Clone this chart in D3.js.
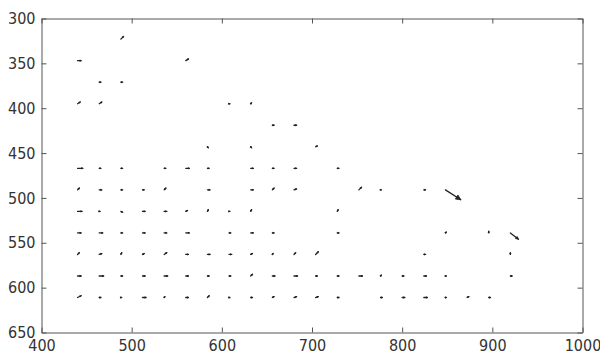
<!DOCTYPE html>
<html><head><meta charset="utf-8">
<script src="https://cdn.jsdelivr.net/npm/d3@7"></script>
<style>
html,body{margin:0;padding:0;background:#fff;}
svg{display:block;}
.tick text{font-family:"Liberation Sans Narrow","DejaVu Sans Condensed","Liberation Sans",Arial,sans-serif;font-size:16px;fill:#333;}
</style></head>
<body>
<svg id="chart" width="600" height="356"></svg>
<script>
// Quiver data: tail positions (x, y) and vector components (u, v), data units
const ptX = [
 488,
 440,560,
 464,488,
 440,464,608,632,
 656,680,
 584,632,704,
 440,464,488,536,560,584,632,656,680,728,
 440,464,488,512,536,584,632,656,680,752,776,824,848,
 440,464,488,512,536,560,584,608,632,728,
 440,464,488,512,536,560,608,632,656,728,848,896,920,
 440,464,488,512,536,560,584,608,632,656,680,704,824,920,
 440,464,488,512,536,560,584,608,632,656,680,704,728,752,776,800,824,848,920,
 440,464,488,512,536,560,584,608,632,656,680,704,728,776,800,824,848,872,896
];
const ptY = [
 323,
 347,347,
 371,371,
 395,395,395,395,
 419,419,
 443,443,443,
 467,467,467,467,467,467,467,467,467,467,
 491,491,491,491,491,491,491,491,491,491,491,491,491,
 515,515,515,515,515,515,515,515,515,515,
 539,539,539,539,539,539,539,539,539,539,539,539,539,
 563,563,563,563,563,563,563,563,563,563,563,563,563,563,
 587,587,587,587,587,587,587,587,587,587,587,587,587,587,587,587,587,587,587,
 611,611,611,611,611,611,611,611,611,611,611,611,611,611,611,611,611,611,611
];
const ptU = [
 3,
 4,3,
 2,2,
 3,3,1,1,
 2,3,
 1,1,2,
 6,2,2,2,4,2,3,2,3,2,
 2,3,2,2,2,3,3,2,3,3,1,2,17,
 5,1,2,3,3,2,1,1,1,1,
 4,4,2,3,3,4,2,3,2,2,1,0,9,
 2,3,1,2,3,3,3,3,2,1,2,3,2,0,
 4,5,2,3,4,3,2,2,2,3,4,2,2,4,1,2,3,1,2,
 4,2,1,4,1,3,2,1,2,2,3,3,2,2,3,4,1,2,2
];
const ptV = [
 -3,
 0,-2,
 0,0,
 -2,-2,0,-1,
 0,0,
 1,1,-1,
 0,0,0,0,0,0,0,0,0,0,
 -2,0,0,0,-2,0,0,-2,-1,-3,0,0,11,
 0,0,1,0,0,-1,-2,0,-2,-2,
 0,0,0,0,0,0,0,0,0,0,-1,-2,7,
 -2,-1,-2,-1,-2,0,0,0,-1,-1,-2,-3,0,-2,
 0,0,0,0,0,0,0,0,-2,0,0,0,0,0,-1,0,0,0,0,
 -2,0,0,0,-1,0,-2,0,0,-1,-1,-1,0,0,0,0,0,-1,0
];
const xTicks = [400,500,600,700,800,900,1000];
const yTicks = [300,350,400,450,500,550,600,650];
const xDomain = [400,1000];
const yDomain = [300,650];

const svg = d3.select("#chart");
const L = 41.5, R = 582.5, T = 18.5, B = 332.5;
const x = d3.scaleLinear().domain(xDomain).range([L, R]);
const y = d3.scaleLinear().domain(yDomain).range([T, B]);
const fmt = d3.format("d");

const axisColor = "#555";
function styleAxis(g){
  g.select(".domain").attr("stroke", axisColor).attr("stroke-width", 1);
  g.selectAll(".tick line").attr("stroke", axisColor);
}
svg.append("g").attr("transform",`translate(0,${B})`)
  .call(d3.axisBottom(x).tickValues(xTicks).tickFormat(fmt).tickSizeInner(-5).tickSizeOuter(0).tickPadding(7))
  .call(styleAxis);
svg.append("g").attr("transform",`translate(0,${T})`)
  .call(d3.axisTop(x).tickValues(xTicks).tickSizeInner(-5).tickSizeOuter(0).tickFormat(""))
  .call(styleAxis);
svg.append("g").attr("transform",`translate(${L},0)`)
  .call(d3.axisLeft(y).tickValues(yTicks).tickFormat(fmt).tickSizeInner(-5).tickSizeOuter(0).tickPadding(6))
  .call(styleAxis);
svg.append("g").attr("transform",`translate(${R},0)`)
  .call(d3.axisRight(y).tickValues(yTicks).tickSizeInner(-5).tickSizeOuter(0).tickFormat(""))
  .call(styleAxis);

const data = ptX.map((d,i)=>({x:d, y:ptY[i], u:ptU[i], v:ptV[i]}));
const g = svg.append("g");
data.forEach(d=>{
  const x0 = x(d.x), y0 = y(d.y);
  const x1 = x(d.x + d.u), y1 = y(d.y + d.v);
  const dx = x1-x0, dy = y1-y0;
  const len = Math.hypot(dx,dy);
  g.append("line").attr("x1",x0).attr("y1",y0).attr("x2",x1).attr("y2",y1)
    .attr("stroke","#222").attr("stroke-width",1.3).attr("stroke-linecap","round");
  if (len>0){
    const hl = Math.max(1.5, len*0.3), a = Math.atan2(dy,dx), w = 0.45;
    const p1 = [x1 - hl*Math.cos(a-w), y1 - hl*Math.sin(a-w)];
    const p2 = [x1 - hl*Math.cos(a+w), y1 - hl*Math.sin(a+w)];
    g.append("path").attr("d",`M${p1}L${x1},${y1}L${p2}Z`)
      .attr("fill","#222").attr("stroke","#222").attr("stroke-width",0.8);
  }
});
</script>
</body></html>
